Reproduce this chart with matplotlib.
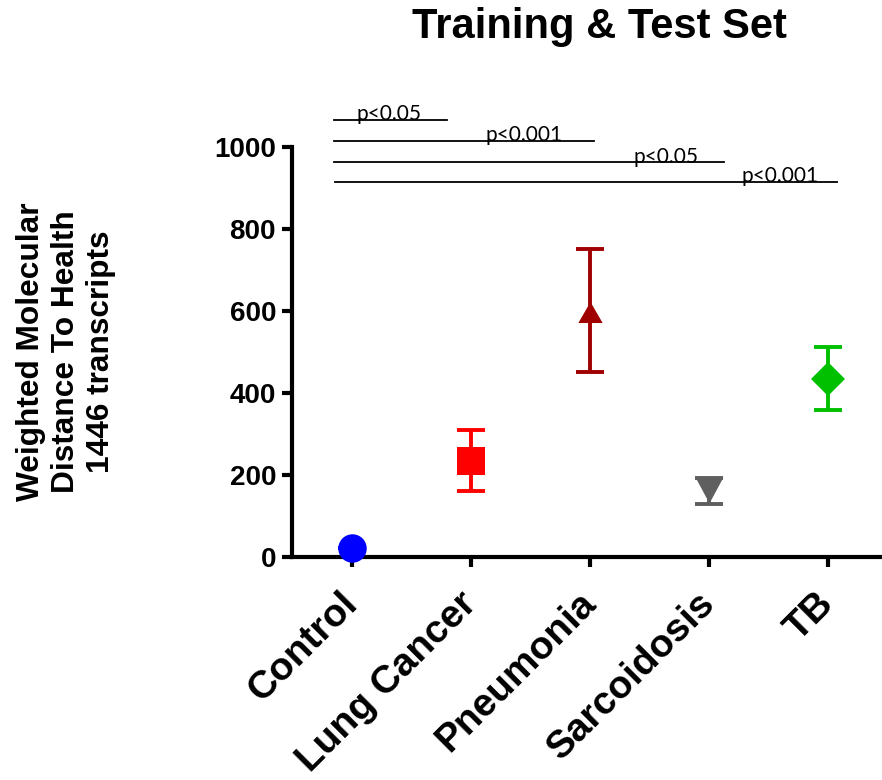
import matplotlib
matplotlib.use("Agg")
import matplotlib.pyplot as plt
import numpy as np

categories = ["Control", "Lung Cancer", "Pneumonia", "Sarcoidosis", "TB"]
means = [22, 235, 598, 163, 433]
err_low = [0, 73, 147, 34, 75]
err_high = [0, 75, 153, 29, 79]
colors = ["#0000FF", "#FF0000", "#A00000", "#5F5F5F", "#00C000"]

sig_labels = ["p<0.05", "p<0.001", "p<0.05", "p<0.001"]
sig_y = [1066, 1015, 963, 915]
sig_x_start = [-0.15, -0.15, -0.15, -0.14]
sig_x_end = [0.80, 2.03, 3.12, 4.07]
sig_text_x = [0.04, 1.12, 2.36, 3.27]

up_tri = [(-1, -0.866), (1, -0.866), (0, 0.866)]
down_tri = [(-1, 0.93), (1, 0.93), (0, -0.93)]
markers = ["o", "s", up_tri, down_tri, "D"]
msizes = [20.5, 20, 17.5, 20, 17.8]

plt.rcParams['font.family'] = ['Liberation Sans', 'DejaVu Sans']

fig = plt.figure(figsize=(8.82, 7.8), dpi=100)
ax = fig.add_axes([292/882, 223/780, 590/882, 410/780])

x = np.arange(len(categories))
for i in range(len(categories)):
    ax.errorbar(x[i], means[i], yerr=[[err_low[i]], [err_high[i]]], fmt='none',
                ecolor=colors[i], elinewidth=2.8, capsize=10, capthick=2.8,
                clip_on=False, zorder=3)
    ax.plot(x[i], means[i], marker=markers[i], markersize=msizes[i],
            color=colors[i], markeredgewidth=0, linestyle='none',
            clip_on=False, zorder=4)

for lab, yv, xs, xe, tx in zip(sig_labels, sig_y, sig_x_start, sig_x_end, sig_text_x):
    ax.plot([xs, xe], [yv, yv], color='black', lw=1.3, clip_on=False, zorder=2)
    ax.text(tx, yv - 1, lab, ha='left', va='baseline', fontsize=15,
            family=['Lato', 'DejaVu Sans'], clip_on=False)

ax.set_xlim(-0.503, 4.45)
ax.set_ylim(0, 1000)
ax.set_yticks([0, 200, 400, 600, 800, 1000])
ax.set_xticks(x)
ax.set_xticklabels(categories, rotation=45, ha='right', va='center',
                   rotation_mode='anchor', fontsize=28, fontweight='bold')
for lbl in ax.get_yticklabels():
    lbl.set_fontsize(20)
    lbl.set_fontweight('bold')

for s in ['top', 'right']:
    ax.spines[s].set_visible(False)
for s in ['left', 'bottom']:
    ax.spines[s].set_linewidth(3)
ax.tick_params(axis='both', width=3, length=7.5, direction='out')
ax.tick_params(axis='y', pad=4)
ax.tick_params(axis='x', pad=22)

fig.text(599/882, 1 - 27/780, "Training & Test Set", ha='center', va='center',
         fontsize=30, fontweight='bold')
fig.text(66/882, 1 - 352/780, "Weighted Molecular\nDistance To Health\n1446 transcripts",
         rotation=90, ha='center', va='center', multialignment='center',
         fontsize=22.8, fontweight='bold', linespacing=1.22)

fig.savefig("out.png", dpi=100)
